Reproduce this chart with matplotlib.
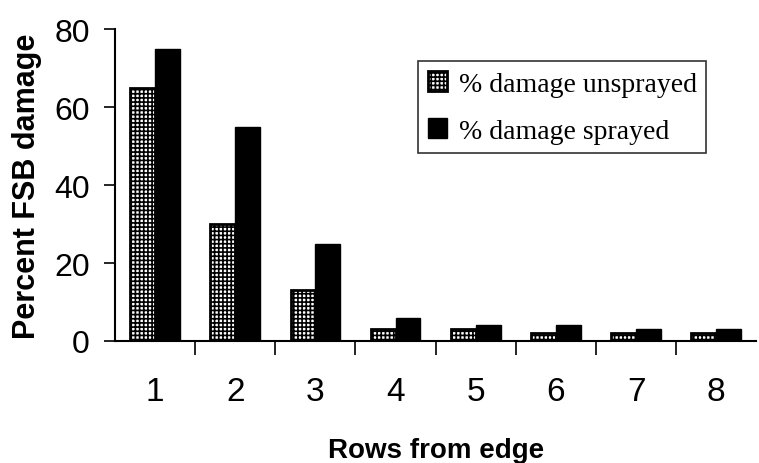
import numpy as np
import matplotlib.pyplot as plt
import matplotlib.ticker as mticker

rows = ["1", "2", "3", "4", "5", "6", "7", "8"]
unsprayed = [65, 30, 13, 3, 3, 2, 2, 2]
sprayed = [75, 55, 25, 6, 4, 4, 3, 3]

plt.rcParams['hatch.linewidth'] = 1.2
plt.rcParams['hatch.color'] = 'black'

fig = plt.figure(figsize=(7.59, 4.64), dpi=100)
ax = fig.add_axes([0.1515, 0.263, 0.845, 0.672])

x = np.arange(len(rows))
w = 0.31
ax.bar(x - w / 2, unsprayed, w, facecolor='white', edgecolor='black',
       linewidth=2, hatch='++++', label='% damage unsprayed')
ax.bar(x + w / 2, sprayed, w, color='black', edgecolor='black',
       linewidth=1, label='% damage sprayed')

ax.set_xlim(-0.5, 7.5)
ax.set_ylim(0, 80)
ax.set_yticks([0, 20, 40, 60, 80])
ax.set_xticks(x)
ax.set_xticklabels(rows)
ax.xaxis.set_minor_locator(mticker.FixedLocator(x[:-1] + 0.5))
ax.tick_params(axis='x', which='major', length=0, pad=25, labelsize=24)
ax.tick_params(axis='x', which='minor', length=10, width=1.2, direction='out')
ax.tick_params(axis='y', length=8, width=1.2, labelsize=23, pad=10)

for s in ['top', 'right']:
    ax.spines[s].set_visible(False)
ax.spines['left'].set_linewidth(1.5)
ax.spines['bottom'].set_linewidth(1.5)

ax.set_ylabel('Percent FSB damage', fontsize=22, fontweight='bold',
              family='Liberation Sans', labelpad=9)
ax.set_xlabel('Rows from edge', fontsize=20, fontweight='bold',
              family='Liberation Sans', labelpad=22)
for lab in ax.get_xticklabels() + ax.get_yticklabels():
    lab.set_family('Liberation Sans')

leg = ax.legend(loc='upper right', bbox_to_anchor=(0.922, 0.897),
                borderaxespad=0,
                prop={'family': 'Liberation Serif', 'size': 20},
                frameon=True, fancybox=False, edgecolor='black',
                handlelength=0.7, handleheight=0.75, handletextpad=0.4,
                borderpad=0.35, labelspacing=0.75)
leg.get_frame().set_linewidth(1.2)

fig.savefig('out.png', dpi=100)
